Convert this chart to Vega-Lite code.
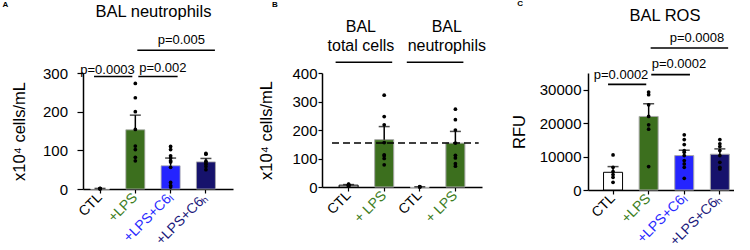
{
  "$schema": "https://vega.github.io/schema/vega-lite/v6.json",
  "padding": {"left": 2, "top": 0, "right": 0, "bottom": 0},
  "spacing": 25,
  "resolve": {"scale": {"fill": "independent", "stroke": "independent", "color": "independent"}},
  "datasets": {
    "a_bars": [
      {"group": "CTL", "mean": 0.8, "upper": 1.5},
      {"group": "+LPS", "mean": 153, "upper": 191},
      {"group": "+LPS+C6ₗ", "mean": 60, "upper": 80},
      {"group": "+LPS+C6ₕ", "mean": 70, "upper": 79}
    ],
    "a_pts": [
      {"group": "CTL", "value": 0.5}, {"group": "CTL", "value": 1}, {"group": "CTL", "value": 1.5}, {"group": "CTL", "value": 0.8},
      {"group": "+LPS", "value": 273}, {"group": "+LPS", "value": 236}, {"group": "+LPS", "value": 200}, {"group": "+LPS", "value": 154},
      {"group": "+LPS", "value": 111}, {"group": "+LPS", "value": 102}, {"group": "+LPS", "value": 82}, {"group": "+LPS", "value": 73},
      {"group": "+LPS+C6ₗ", "value": 110}, {"group": "+LPS+C6ₗ", "value": 102}, {"group": "+LPS+C6ₗ", "value": 86}, {"group": "+LPS+C6ₗ", "value": 80},
      {"group": "+LPS+C6ₗ", "value": 73}, {"group": "+LPS+C6ₗ", "value": 70}, {"group": "+LPS+C6ₗ", "value": 56}, {"group": "+LPS+C6ₗ", "value": 17},
      {"group": "+LPS+C6ₗ", "value": 9}, {"group": "+LPS+C6ₗ", "value": 5},
      {"group": "+LPS+C6ₕ", "value": 92}, {"group": "+LPS+C6ₕ", "value": 90}, {"group": "+LPS+C6ₕ", "value": 72}, {"group": "+LPS+C6ₕ", "value": 68},
      {"group": "+LPS+C6ₕ", "value": 64}, {"group": "+LPS+C6ₕ", "value": 58}, {"group": "+LPS+C6ₕ", "value": 50}
    ],
    "a_sig": [
      {"id": 1, "from": "CTL", "to": "+LPS", "level": 291, "label": "p=0.0003"},
      {"id": 2, "from": "+LPS", "to": "+LPS+C6ₗ", "level": 291, "label": "p=0.002"},
      {"id": 3, "from": "+LPS", "to": "+LPS+C6ₕ", "level": 359, "label": "p=0.005"}
    ],
    "a_head": [{"label": "BAL neutrophils", "level": 445}],
    "b_bars": [
      {"group": "tc_CTL", "mean": 6.5, "upper": 8.5},
      {"group": "tc_LPS", "mean": 166, "upper": 212},
      {"group": "n_CTL", "mean": 0.5, "upper": 0.8},
      {"group": "n_LPS", "mean": 154, "upper": 195}
    ],
    "b_pts": [
      {"group": "tc_CTL", "value": 3}, {"group": "tc_CTL", "value": 5}, {"group": "tc_CTL", "value": 6}, {"group": "tc_CTL", "value": 7},
      {"group": "tc_CTL", "value": 9}, {"group": "tc_CTL", "value": 10},
      {"group": "tc_LPS", "value": 322}, {"group": "tc_LPS", "value": 247}, {"group": "tc_LPS", "value": 218}, {"group": "tc_LPS", "value": 156},
      {"group": "tc_LPS", "value": 113}, {"group": "tc_LPS", "value": 110}, {"group": "tc_LPS", "value": 100}, {"group": "tc_LPS", "value": 78},
      {"group": "n_CTL", "value": 0.5}, {"group": "n_CTL", "value": 1}, {"group": "n_CTL", "value": 0.3},
      {"group": "n_LPS", "value": 273}, {"group": "n_LPS", "value": 236}, {"group": "n_LPS", "value": 200}, {"group": "n_LPS", "value": 154},
      {"group": "n_LPS", "value": 111}, {"group": "n_LPS", "value": 102}, {"group": "n_LPS", "value": 82}, {"group": "n_LPS", "value": 73}
    ],
    "b_head": [
      {"grp": "total", "from": "tc_CTL", "to": "tc_LPS", "label": "BAL\ntotal cells", "textlevel": 589, "level": 437.5},
      {"grp": "neut", "from": "n_CTL", "to": "n_LPS", "label": "BAL\nneutrophils", "textlevel": 589, "level": 437.5}
    ],
    "b_ref": [{"from": "tc_CTL", "to": "n_LPS", "level": 154}],
    "c_bars": [
      {"group": "CTL", "mean": 5300, "upper": 7000},
      {"group": "+LPS", "mean": 22000, "upper": 25800},
      {"group": "+LPS+C6ₗ", "mean": 10300, "upper": 11900},
      {"group": "+LPS+C6ₕ", "mean": 10700, "upper": 12300}
    ],
    "c_pts": [
      {"group": "CTL", "value": 10500}, {"group": "CTL", "value": 6800}, {"group": "CTL", "value": 5500}, {"group": "CTL", "value": 4600},
      {"group": "CTL", "value": 3800}, {"group": "CTL", "value": 2300},
      {"group": "+LPS", "value": 29300}, {"group": "+LPS", "value": 28500}, {"group": "+LPS", "value": 25500}, {"group": "+LPS", "value": 22000},
      {"group": "+LPS", "value": 19500}, {"group": "+LPS", "value": 18200}, {"group": "+LPS", "value": 7000},
      {"group": "+LPS+C6ₗ", "value": 16500}, {"group": "+LPS+C6ₗ", "value": 15100}, {"group": "+LPS+C6ₗ", "value": 13600}, {"group": "+LPS+C6ₗ", "value": 11800},
      {"group": "+LPS+C6ₗ", "value": 11300}, {"group": "+LPS+C6ₗ", "value": 10300}, {"group": "+LPS+C6ₗ", "value": 8800}, {"group": "+LPS+C6ₗ", "value": 7800},
      {"group": "+LPS+C6ₗ", "value": 6800}, {"group": "+LPS+C6ₗ", "value": 3500},
      {"group": "+LPS+C6ₕ", "value": 15100}, {"group": "+LPS+C6ₕ", "value": 13800}, {"group": "+LPS+C6ₕ", "value": 13000}, {"group": "+LPS+C6ₕ", "value": 11800},
      {"group": "+LPS+C6ₕ", "value": 10300}, {"group": "+LPS+C6ₕ", "value": 8300}, {"group": "+LPS+C6ₕ", "value": 6800}, {"group": "+LPS+C6ₕ", "value": 6300}
    ],
    "c_sig": [
      {"id": 1, "from": "CTL", "to": "+LPS", "level": 31600, "label": "p=0.0002"},
      {"id": 2, "from": "+LPS", "to": "+LPS+C6ₗ", "level": 34500, "label": "p=0.0002"},
      {"id": 3, "from": "+LPS", "to": "+LPS+C6ₕ", "level": 42500, "label": "p=0.0008"}
    ],
    "c_head": [{"label": "BAL ROS", "level": 50500}]
  },
  "hconcat": [
    {
      "width": 150, "height": 116,
      "title": {"text": "A", "dx": -9, "offset": -5},
      "encoding": {
        "y": {"type": "quantitative", "title": "x10⁴ cells/mL", "scale": {"domain": [0, 300], "nice": false},
          "axis": {"values": [0, 100, 200, 300], "labelOverlap": false, "labelAngle": 0, "labelPadding": 9.5, "titlePadding": 15}}
      },
      "layer": [
        {"data": {"name": "a_bars"}, "mark": {"type": "bar", "strokeWidth": 0.8},
         "encoding": {
           "x": {"field": "group", "type": "nominal", "title": null,
             "scale": {"type": "band", "domain": ["CTL", "+LPS", "+LPS+C6ₗ", "+LPS+C6ₕ"], "paddingInner": 0.462, "paddingOuter": 0.356, "align": 0.3},
             "axis": {"labelColor": {"condition": [{"test": "datum.value === '+LPS'", "value": "#3d7d1d"}, {"test": "datum.value === '+LPS+C6ₗ'", "value": "#2a2aff"}, {"test": "datum.value === '+LPS+C6ₕ'", "value": "#1d1a7c"}], "value": "#000000"}}},
           "y": {"field": "mean"},
           "fill": {"field": "group", "type": "nominal", "legend": null, "scale": {"domain": ["CTL", "+LPS", "+LPS+C6ₗ", "+LPS+C6ₕ"], "range": ["#ffffff", "#3c6f1e", "#2424ff", "#16126c"]}},
           "stroke": {"field": "group", "type": "nominal", "legend": null, "scale": {"domain": ["CTL", "+LPS", "+LPS+C6ₗ", "+LPS+C6ₕ"], "range": ["#ffffff", "#a8a8a8", "#a8a8a8", "#a8a8a8"]}}
         }},
        {"data": {"name": "a_bars"}, "mark": {"type": "rule", "strokeWidth": 1.5, "color": "#000"},
         "encoding": {"x": {"field": "group", "type": "nominal", "title": null}, "y": {"field": "mean"}, "y2": {"field": "upper"}}},
        {"data": {"name": "a_bars"}, "mark": {"type": "tick", "thickness": 1.5, "size": 11, "color": "#000", "orient": "horizontal"},
         "encoding": {"x": {"field": "group", "type": "nominal", "title": null}, "y": {"field": "upper"}}},
        {"data": {"name": "a_pts"}, "mark": {"type": "point", "filled": true, "size": 14, "color": "#000", "opacity": 1},
         "encoding": {"x": {"field": "group", "type": "nominal", "title": null}, "y": {"field": "value"}}},
        {"data": {"name": "a_sig"}, "transform": [{"filter": "datum.id == 1"}],
         "layer": [
           {"mark": {"type": "rule", "strokeWidth": 1.6, "color": "#000", "xOffset": -6, "x2Offset": -3},
            "encoding": {"x": {"field": "from", "type": "nominal", "title": null}, "x2": {"field": "to"}, "y": {"field": "level"}}},
           {"mark": {"type": "text", "fontSize": 13, "baseline": "alphabetic", "dx": 7.5, "dy": -2.5},
            "encoding": {"x": {"field": "from", "type": "nominal", "title": null}, "y": {"field": "level"}, "text": {"field": "label"}}}
         ]},
        {"data": {"name": "a_sig"}, "transform": [{"filter": "datum.id == 2"}],
         "layer": [
           {"mark": {"type": "rule", "strokeWidth": 1.6, "color": "#000", "xOffset": 3, "x2Offset": 7},
            "encoding": {"x": {"field": "from", "type": "nominal", "title": null}, "x2": {"field": "to"}, "y": {"field": "level"}}},
           {"mark": {"type": "text", "fontSize": 13, "baseline": "alphabetic", "dx": 27.5, "dy": -4},
            "encoding": {"x": {"field": "from", "type": "nominal", "title": null}, "y": {"field": "level"}, "text": {"field": "label"}}}
         ]},
        {"data": {"name": "a_sig"}, "transform": [{"filter": "datum.id == 3"}],
         "layer": [
           {"mark": {"type": "rule", "strokeWidth": 1.6, "color": "#000", "xOffset": 2, "x2Offset": 9},
            "encoding": {"x": {"field": "from", "type": "nominal", "title": null}, "x2": {"field": "to"}, "y": {"field": "level"}}},
           {"mark": {"type": "text", "fontSize": 13, "baseline": "alphabetic", "dx": 46, "dy": -6},
            "encoding": {"x": {"field": "from", "type": "nominal", "title": null}, "y": {"field": "level"}, "text": {"field": "label"}}}
         ]},
        {"data": {"name": "a_head"}, "mark": {"type": "text", "fontSize": 16.5, "baseline": "alphabetic", "dx": -4.5},
         "encoding": {"y": {"field": "level"}, "text": {"field": "label"}}}
      ]
    },
    {
      "width": 160, "height": 114,
      "title": {"text": "B", "dx": 13, "offset": 10},
      "encoding": {
        "y": {"type": "quantitative", "title": "x10⁴ cells/mL", "scale": {"domain": [0, 400], "nice": false},
          "axis": {"values": [0, 100, 200, 300, 400], "labelOverlap": false, "labelAngle": 0, "labelPadding": 1, "tickSize": 4, "titlePadding": 17}}
      },
      "layer": [
        {"data": {"name": "b_bars"}, "mark": {"type": "bar", "strokeWidth": 1},
         "encoding": {
           "x": {"field": "group", "type": "nominal", "title": null,
             "scale": {"type": "band", "domain": ["tc_CTL", "tc_LPS", "n_CTL", "n_LPS"], "paddingInner": 0.465, "paddingOuter": 0.48, "align": 0.5},
             "axis": {"labelExpr": "indexof(datum.value, 'CTL') >= 0 ? 'CTL' : '+ LPS'",
               "labelColor": {"condition": {"test": "indexof(datum.value, 'LPS') >= 0", "value": "#3d7d1d"}, "value": "#000000"}}},
           "y": {"field": "mean"},
           "fill": {"field": "group", "type": "nominal", "legend": null, "scale": {"domain": ["tc_CTL", "tc_LPS", "n_CTL", "n_LPS"], "range": ["#ffffff", "#3c6f1e", "#ffffff", "#3c6f1e"]}},
           "stroke": {"field": "group", "type": "nominal", "legend": null, "scale": {"domain": ["tc_CTL", "tc_LPS", "n_CTL", "n_LPS"], "range": ["#000000", "#a8a8a8", "#ffffff", "#a8a8a8"]}}
         }},
        {"data": {"name": "b_bars"}, "mark": {"type": "rule", "strokeWidth": 1.5, "color": "#000"},
         "encoding": {"x": {"field": "group", "type": "nominal", "title": null}, "y": {"field": "mean"}, "y2": {"field": "upper"}}},
        {"data": {"name": "b_bars"}, "mark": {"type": "tick", "thickness": 1.5, "size": 11, "color": "#000", "orient": "horizontal"},
         "encoding": {"x": {"field": "group", "type": "nominal", "title": null}, "y": {"field": "upper"}}},
        {"data": {"name": "b_pts"}, "mark": {"type": "point", "filled": true, "size": 14, "color": "#000", "opacity": 1},
         "encoding": {"x": {"field": "group", "type": "nominal", "title": null}, "y": {"field": "value"}}},
        {"data": {"name": "b_ref"}, "mark": {"type": "rule", "strokeWidth": 1.5, "color": "#000", "strokeDash": [7, 4], "xOffset": -16.6, "x2Offset": 23.3},
         "encoding": {"x": {"field": "from", "type": "nominal", "title": null}, "x2": {"field": "to"}, "y": {"field": "level"}}},
        {"data": {"name": "b_head"}, "mark": {"type": "rule", "strokeWidth": 1.6, "color": "#000", "xOffset": -13, "x2Offset": 8},
         "encoding": {"x": {"field": "from", "type": "nominal", "title": null}, "x2": {"field": "to"}, "y": {"field": "level"}}},
        {"data": {"name": "b_head"}, "transform": [{"filter": "datum.grp == 'total'"}],
         "mark": {"type": "text", "fontSize": 16, "baseline": "top", "lineBreak": "\n", "lineHeight": 19, "dx": -23.3},
         "encoding": {"x": {"field": "to", "type": "nominal", "title": null}, "y": {"field": "textlevel"}, "text": {"field": "label"}}},
        {"data": {"name": "b_head"}, "transform": [{"filter": "datum.grp == 'neut'"}],
         "mark": {"type": "text", "fontSize": 16, "baseline": "top", "lineBreak": "\n", "lineHeight": 19, "dx": 27},
         "encoding": {"x": {"field": "from", "type": "nominal", "title": null}, "y": {"field": "textlevel"}, "text": {"field": "label"}}}
      ]
    },
    {
      "width": 146, "height": 117,
      "title": {"text": "C", "dx": 6, "offset": 0},
      "encoding": {
        "y": {"type": "quantitative", "title": "RFU", "scale": {"domain": [0, 35000], "nice": false},
          "axis": {"values": [0, 10000, 20000, 30000], "format": "d", "labelOverlap": false, "labelAngle": 0, "labelPadding": 2, "tickSize": 5, "titlePadding": 12}}
      },
      "layer": [
        {"data": {"name": "c_bars"}, "mark": {"type": "bar", "strokeWidth": 1},
         "encoding": {
           "x": {"field": "group", "type": "nominal", "title": null,
             "scale": {"type": "band", "domain": ["CTL", "+LPS", "+LPS+C6ₗ", "+LPS+C6ₕ"], "paddingInner": 0.466, "paddingOuter": 0.2835, "align": 0.77},
             "axis": {"labelColor": {"condition": [{"test": "datum.value === '+LPS'", "value": "#3d7d1d"}, {"test": "datum.value === '+LPS+C6ₗ'", "value": "#2a2aff"}, {"test": "datum.value === '+LPS+C6ₕ'", "value": "#1d1a7c"}], "value": "#000000"}}},
           "y": {"field": "mean"},
           "fill": {"field": "group", "type": "nominal", "legend": null, "scale": {"domain": ["CTL", "+LPS", "+LPS+C6ₗ", "+LPS+C6ₕ"], "range": ["#ffffff", "#3c6f1e", "#2424ff", "#16126c"]}},
           "stroke": {"field": "group", "type": "nominal", "legend": null, "scale": {"domain": ["CTL", "+LPS", "+LPS+C6ₗ", "+LPS+C6ₕ"], "range": ["#000000", "#a8a8a8", "#a8a8a8", "#a8a8a8"]}}
         }},
        {"data": {"name": "c_bars"}, "mark": {"type": "rule", "strokeWidth": 1.5, "color": "#000"},
         "encoding": {"x": {"field": "group", "type": "nominal", "title": null}, "y": {"field": "mean"}, "y2": {"field": "upper"}}},
        {"data": {"name": "c_bars"}, "mark": {"type": "tick", "thickness": 1.5, "size": 11, "color": "#000", "orient": "horizontal"},
         "encoding": {"x": {"field": "group", "type": "nominal", "title": null}, "y": {"field": "upper"}}},
        {"data": {"name": "c_pts"}, "mark": {"type": "point", "filled": true, "size": 14, "color": "#000", "opacity": 1},
         "encoding": {"x": {"field": "group", "type": "nominal", "title": null}, "y": {"field": "value"}}},
        {"data": {"name": "c_sig"}, "transform": [{"filter": "datum.id == 1"}],
         "layer": [
           {"mark": {"type": "rule", "strokeWidth": 1.6, "color": "#000", "xOffset": -5, "x2Offset": -2.4},
            "encoding": {"x": {"field": "from", "type": "nominal", "title": null}, "x2": {"field": "to"}, "y": {"field": "level"}}},
           {"mark": {"type": "text", "fontSize": 13, "baseline": "alphabetic", "dx": 8, "dy": -5.6},
            "encoding": {"x": {"field": "from", "type": "nominal", "title": null}, "y": {"field": "level"}, "text": {"field": "label"}}}
         ]},
        {"data": {"name": "c_sig"}, "transform": [{"filter": "datum.id == 2"}],
         "layer": [
           {"mark": {"type": "rule", "strokeWidth": 1.6, "color": "#000", "xOffset": 2.6, "x2Offset": 5.7},
            "encoding": {"x": {"field": "from", "type": "nominal", "title": null}, "x2": {"field": "to"}, "y": {"field": "level"}}},
           {"mark": {"type": "text", "fontSize": 13, "baseline": "alphabetic", "dx": 30.3, "dy": -6.7},
            "encoding": {"x": {"field": "from", "type": "nominal", "title": null}, "y": {"field": "level"}, "text": {"field": "label"}}}
         ]},
        {"data": {"name": "c_sig"}, "transform": [{"filter": "datum.id == 3"}],
         "layer": [
           {"mark": {"type": "rule", "strokeWidth": 1.6, "color": "#000", "xOffset": 2, "x2Offset": 8.3},
            "encoding": {"x": {"field": "from", "type": "nominal", "title": null}, "x2": {"field": "to"}, "y": {"field": "level"}}},
           {"mark": {"type": "text", "fontSize": 13, "baseline": "alphabetic", "dx": 48.3, "dy": -6},
            "encoding": {"x": {"field": "from", "type": "nominal", "title": null}, "y": {"field": "level"}, "text": {"field": "label"}}}
         ]},
        {"data": {"name": "c_head"}, "mark": {"type": "text", "fontSize": 16.5, "baseline": "alphabetic", "dx": 4},
         "encoding": {"y": {"field": "level"}, "text": {"field": "label"}}}
      ]
    }
  ],
  "config": {
    "font": "Liberation Sans",
    "view": {"stroke": null},
    "axis": {"grid": false, "domainColor": "#000", "domainWidth": 1.5, "tickColor": "#000", "tickWidth": 1.2,
      "labelColor": "#000", "titleColor": "#000", "labelFontSize": 15, "titleFontSize": 16.5, "titleFontWeight": "normal",
      "labelFont": "Liberation Sans", "titleFont": "Liberation Sans"},
    "axisX": {"labelFontSize": 14, "tickSize": 4, "labelAngle": -45, "labelAlign": "right", "labelBaseline": "middle", "labelPadding": 2},
    "axisY": {"tickSize": 6, "labelOverlap": false, "labelAngle": 0, "labelAlign": "right", "labelBaseline": "middle"},
    "title": {"fontSize": 8, "fontWeight": "bold", "anchor": "start", "frame": "bounds", "color": "#000"},
    "text": {"font": "Liberation Sans", "color": "#000"}
  }
}
